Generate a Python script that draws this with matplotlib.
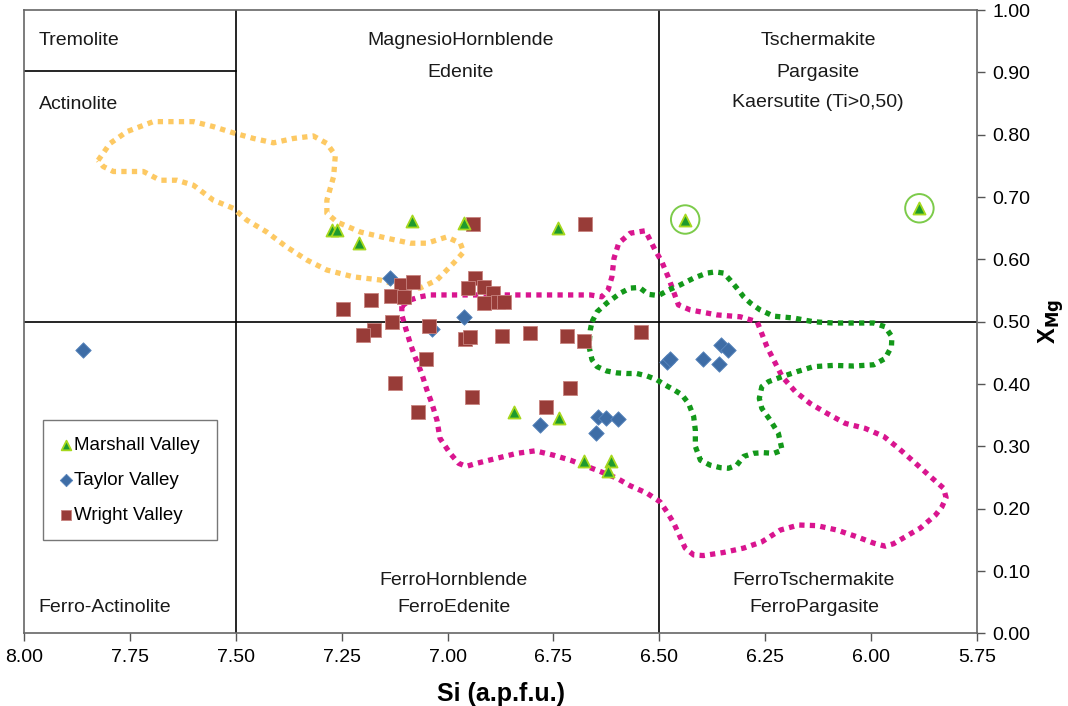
import matplotlib
matplotlib.use("Agg")
from matplotlib import pyplot as plt

plt.rcParams['font.family'] = ['Liberation Sans', 'DejaVu Sans']

# sample data
marshall_si = [7.273, 7.261, 7.208, 7.084, 6.962, 6.740, 6.439, 5.886, 6.844, 6.738, 6.679, 6.614, 6.621]
marshall_xmg = [0.647, 0.647, 0.626, 0.662, 0.658, 0.651, 0.664, 0.682, 0.355, 0.345, 0.276, 0.276, 0.260]
circled_si = [6.439, 5.886]
circled_xmg = [0.664, 0.682]

taylor_si = [7.136, 6.962, 7.036, 6.781, 6.644, 6.625, 6.598, 6.649, 6.482, 6.474, 6.396, 6.360, 6.354, 6.337, 7.861]
taylor_xmg = [0.570, 0.508, 0.488, 0.334, 0.348, 0.345, 0.344, 0.322, 0.436, 0.441, 0.440, 0.432, 0.462, 0.455, 0.455]

wright_si = [6.941, 6.675, 7.110, 7.082, 7.133, 7.104, 7.180, 7.248, 6.936, 6.952, 6.913, 6.893, 6.914, 6.881,
             6.866, 7.132, 7.045, 7.173, 7.199, 6.960, 6.947, 6.872, 6.805, 6.718, 6.677, 6.543, 7.051, 7.124,
             6.710, 6.943, 6.767, 7.070]
wright_xmg = [0.657, 0.657, 0.559, 0.563, 0.542, 0.539, 0.535, 0.520, 0.570, 0.554, 0.555, 0.546, 0.530, 0.532,
              0.531, 0.500, 0.494, 0.486, 0.479, 0.472, 0.475, 0.477, 0.482, 0.477, 0.469, 0.483, 0.440, 0.402,
              0.393, 0.380, 0.364, 0.356]

# dotted field outlines
yellow_si = [7.825, 7.797, 7.757, 7.695, 7.600, 7.553, 7.506, 7.458, 7.411, 7.364, 7.317, 7.285, 7.265, 7.269,
             7.285, 7.285, 7.261, 7.206, 7.143, 7.088, 7.049, 7.002, 6.970, 6.962, 6.986, 7.025, 7.065, 7.104,
             7.159, 7.222, 7.285, 7.332, 7.380, 7.427, 7.474, 7.506, 7.553, 7.600, 7.639, 7.679, 7.718, 7.757,
             7.789, 7.813, 7.825]
yellow_xmg = [0.759, 0.786, 0.805, 0.821, 0.821, 0.813, 0.803, 0.794, 0.787, 0.794, 0.798, 0.786, 0.767, 0.733,
              0.695, 0.674, 0.660, 0.644, 0.634, 0.626, 0.626, 0.636, 0.626, 0.612, 0.594, 0.567, 0.554, 0.556,
              0.567, 0.572, 0.583, 0.599, 0.620, 0.644, 0.663, 0.682, 0.695, 0.719, 0.727, 0.727, 0.741, 0.741,
              0.741, 0.749, 0.759]

magenta_si = [7.108, 7.088, 7.065, 7.041, 6.947, 6.852, 6.758, 6.663, 6.636, 6.621, 6.612, 6.607, 6.596, 6.569,
              6.533, 6.510, 6.494, 6.478, 6.455, 6.427, 6.364, 6.309, 6.269, 6.246, 6.210, 6.179, 6.144, 6.104,
              6.061, 6.014, 5.970, 5.935, 5.900, 5.864, 5.829, 5.823, 5.833, 5.848, 5.884, 5.907, 5.947, 5.967,
              5.994, 6.033, 6.081, 6.128, 6.171, 6.214, 6.258, 6.301, 6.348, 6.396, 6.419, 6.439, 6.451, 6.466,
              6.482, 6.498, 6.529, 6.569, 6.600, 6.640, 6.679, 6.710, 6.750, 6.793, 6.836, 6.884, 6.931, 6.956,
              6.974, 6.994, 7.018, 7.025, 7.037, 7.049, 7.061, 7.077, 7.088, 7.100, 7.108, 7.108]
magenta_xmg = [0.525, 0.535, 0.540, 0.543, 0.543, 0.543, 0.543, 0.543, 0.540, 0.551, 0.572, 0.602, 0.626, 0.642,
               0.646, 0.615, 0.596, 0.570, 0.527, 0.519, 0.511, 0.508, 0.500, 0.460, 0.412, 0.388, 0.369, 0.353,
               0.337, 0.329, 0.316, 0.297, 0.276, 0.254, 0.233, 0.218, 0.203, 0.190, 0.169, 0.160, 0.144, 0.140,
               0.145, 0.155, 0.166, 0.173, 0.174, 0.166, 0.147, 0.137, 0.130, 0.125, 0.126, 0.137, 0.155, 0.177,
               0.195, 0.211, 0.225, 0.237, 0.249, 0.260, 0.270, 0.278, 0.286, 0.293, 0.289, 0.281, 0.273, 0.268,
               0.273, 0.289, 0.313, 0.342, 0.369, 0.391, 0.417, 0.444, 0.465, 0.492, 0.511, 0.525]

green_si = [6.659, 6.647, 6.624, 6.592, 6.569, 6.547, 6.526, 6.502, 6.478, 6.451, 6.419, 6.388, 6.368, 6.348,
            6.333, 6.317, 6.301, 6.285, 6.262, 6.230, 6.183, 6.136, 6.089, 6.041, 5.994, 5.967, 5.951, 5.952,
            5.967, 5.994, 6.041, 6.089, 6.136, 6.175, 6.210, 6.242, 6.258, 6.264, 6.258, 6.238, 6.219, 6.210,
            6.230, 6.254, 6.278, 6.301, 6.317, 6.337, 6.356, 6.380, 6.403, 6.415, 6.415, 6.419, 6.431, 6.447,
            6.466, 6.490, 6.506, 6.529, 6.553, 6.577, 6.600, 6.624, 6.647, 6.659, 6.665, 6.665, 6.663, 6.659]
green_xmg = [0.500, 0.516, 0.530, 0.546, 0.554, 0.555, 0.544, 0.542, 0.551, 0.559, 0.570, 0.578, 0.580, 0.578,
             0.567, 0.554, 0.540, 0.530, 0.519, 0.509, 0.506, 0.500, 0.498, 0.498, 0.498, 0.492, 0.476, 0.460,
             0.441, 0.431, 0.429, 0.430, 0.428, 0.420, 0.412, 0.404, 0.396, 0.377, 0.361, 0.342, 0.321, 0.294,
             0.289, 0.290, 0.289, 0.284, 0.270, 0.265, 0.266, 0.270, 0.278, 0.300, 0.326, 0.348, 0.369, 0.383,
             0.391, 0.400, 0.407, 0.413, 0.417, 0.417, 0.418, 0.421, 0.428, 0.439, 0.457, 0.471, 0.487, 0.500]

# field names: (text, si, xmg, alignment)
fields = [
    ("Tremolite", 7.965, 0.951, 'left'),
    ("Actinolite", 7.965, 0.848, 'left'),
    ("MagnesioHornblende", 6.97, 0.951, 'center'),
    ("Edenite", 6.97, 0.900, 'center'),
    ("Tschermakite", 6.125, 0.951, 'center'),
    ("Pargasite", 6.125, 0.900, 'center'),
    ("Kaersutite (Ti>0,50)", 6.125, 0.852, 'center'),
    ("FerroHornblende", 6.985, 0.085, 'center'),
    ("FerroEdenite", 6.985, 0.042, 'center'),
    ("FerroTschermakite", 6.135, 0.085, 'center'),
    ("FerroPargasite", 6.135, 0.042, 'center'),
    ("Ferro-Actinolite", 7.965, 0.042, 'left'),
]

xticks = [8.00, 7.75, 7.50, 7.25, 7.00, 6.75, 6.50, 6.25, 6.00, 5.75]
yticks = [0.0, 0.1, 0.2, 0.3, 0.4, 0.5, 0.6, 0.7, 0.8, 0.9, 1.0]

fig = plt.figure(figsize=(10.68, 7.06), dpi=100)
ax = fig.add_axes([0.0225, 0.1027, 0.8923, 0.8831])

# division lines
ax.axvline(7.5, color='black', lw=1.2, zorder=1)
ax.axvline(6.5, color='black', lw=1.2, zorder=1)
ax.axhline(0.5, color='black', lw=1.2, zorder=1)
ax.plot([8.0, 7.5], [0.903, 0.903], color='black', lw=1.2, zorder=1)

dots = dict(ls=(0, (1, 1)), lw=3.8, dash_capstyle='butt', zorder=2)
ax.plot(yellow_si, yellow_xmg, color='#FDC963', **dots)
ax.plot(magenta_si, magenta_xmg, color='#D9158F', **dots)
ax.plot(green_si, green_xmg, color='#13981A', **dots)

ax.scatter(marshall_si, marshall_xmg, marker='^', s=75, c='#1E9A2E', edgecolors='#A6D81E',
           linewidths=1.3, zorder=4, label='Marshall Valley')
ax.scatter(taylor_si, taylor_xmg, marker='D', s=62, c='#3E6DA6', edgecolors='#5A86BD',
           linewidths=0.6, zorder=3, label='Taylor Valley')
ax.scatter(wright_si, wright_xmg, marker='s', s=95, c='#983C38', edgecolors='#C8837F',
           linewidths=0.6, zorder=3, label='Wright Valley')
ax.scatter(circled_si, circled_xmg, marker='o', s=420, facecolors='none', edgecolors='#7CCB4A',
           linewidths=1.4, zorder=4)

for name, si, xmg, ha in fields:
    ax.text(si, xmg, name, ha=ha, va='center', fontsize=14, color='#1a1a1a')

ax.set_xlim(8.0, 5.75)
ax.set_ylim(0.0, 1.0)
ax.set_xticks(xticks)
ax.set_xticklabels([f"{t:.2f}" for t in xticks])
ax.set_yticks(yticks)
ax.set_yticklabels([f"{t:.2f}" for t in yticks])
ax.yaxis.tick_right()
ax.yaxis.set_label_position('right')
ax.tick_params(direction='out', length=6, width=1, colors='#555555', labelcolor='black',
               labelsize=14, pad=5)
for sp in ax.spines.values():
    sp.set_color('#666666')
    sp.set_linewidth(1.2)

ax.set_xlabel("Si (a.p.f.u.)", fontsize=18, fontweight='bold', labelpad=12)
ax.set_ylabel(r"X$_{\mathbf{Mg}}$", fontsize=17, fontweight='bold', labelpad=4)

leg = ax.legend(loc='upper left', bbox_to_anchor=(0.02, 0.343), fontsize=13.5, frameon=True,
                fancybox=False, edgecolor='#555555', handlelength=0.6, handletextpad=0.15,
                labelspacing=0.95, borderpad=0.9, borderaxespad=0, scatterpoints=1, markerscale=0.8)
leg.get_frame().set_linewidth(1.0)

plt.savefig("out.png", dpi=100)
